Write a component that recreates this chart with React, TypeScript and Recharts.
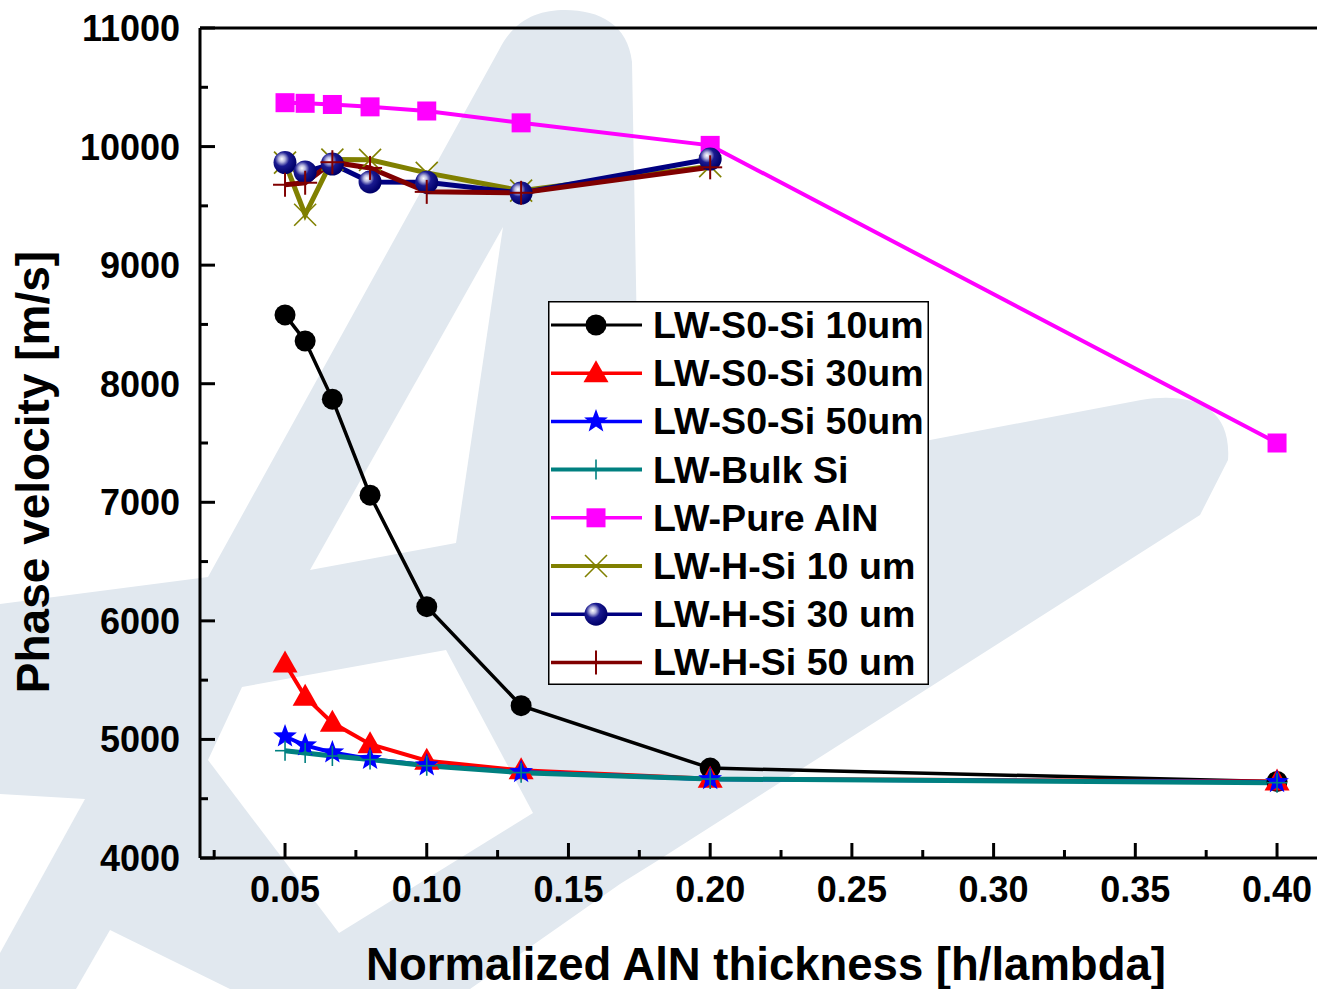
import React from 'react';
import { LineChart, Line, XAxis, YAxis, ReferenceLine, Legend } from 'recharts';

// Normalized AlN thickness h/lambda
const thickness = [0.05, 0.0571, 0.0667, 0.08, 0.1, 0.1333, 0.2, 0.4];

// Phase velocities [m/s]
const s0Si10 = [8580, 8360, 7870, 7060, 6120, 5285, 4758, 4645];
const s0Si30 = [5640, 5360, 5140, 4960, 4820, 4740, 4668, 4645];
const s0Si50 = [5025, 4950, 4890, 4835, 4782, 4725, 4665, 4640];
const bulkSi = [4905, 4885, 4860, 4830, 4778, 4720, 4666, 4635];
const pureAlN = [10370, 10365, 10355, 10335, 10300, 10200, 10010, 7500];
const hSi10 = [9865, 9425, 9890, 9888, 9778, 9628, 9835];
const hSi30 = [9865, 9786, 9853, 9702, 9700, 9608, 9895];
const hSi50 = [9678, 9695, 9868, 9820, 9618, 9610, 9825];

const xTicks = [0.025, 0.05, 0.075, 0.1, 0.125, 0.15, 0.175, 0.2, 0.225, 0.25, 0.275, 0.3, 0.325, 0.35, 0.375, 0.4];
const yTicks = [4000, 4500, 5000, 5500, 6000, 6500, 7000, 7500, 8000, 8500, 9000, 9500, 10000, 10500, 11000];

const FONT = '"Liberation Sans", Arial, Helvetica, sans-serif';

type MarkerKind = 'circle' | 'triangle' | 'star' | 'vplus' | 'square' | 'cross' | 'sphere' | 'plus';

interface SeriesDef {
  key: string;
  name: string;
  color: string;
  width: number;
  legendWidth: number;
  marker: MarkerKind;
  values: number[];
}

const series: SeriesDef[] = [
  { key: 's0Si10', name: 'LW-S0-Si 10um', color: '#000000', width: 3.5, legendWidth: 3, marker: 'circle', values: s0Si10 },
  { key: 's0Si30', name: 'LW-S0-Si 30um', color: '#ff0000', width: 4, legendWidth: 3.5, marker: 'triangle', values: s0Si30 },
  { key: 's0Si50', name: 'LW-S0-Si 50um', color: '#0000ff', width: 4, legendWidth: 3.5, marker: 'star', values: s0Si50 },
  { key: 'bulkSi', name: 'LW-Bulk Si', color: '#008080', width: 5, legendWidth: 4, marker: 'vplus', values: bulkSi },
  { key: 'pureAlN', name: 'LW-Pure AlN', color: '#ff00ff', width: 4, legendWidth: 3.5, marker: 'square', values: pureAlN },
  { key: 'hSi10', name: 'LW-H-Si 10 um', color: '#808000', width: 5, legendWidth: 4, marker: 'cross', values: hSi10 },
  { key: 'hSi30', name: 'LW-H-Si 30 um', color: '#000080', width: 5, legendWidth: 3.5, marker: 'sphere', values: hSi30 },
  { key: 'hSi50', name: 'LW-H-Si 50 um', color: '#800000', width: 5, legendWidth: 3.5, marker: 'plus', values: hSi50 },
];

const data = thickness.map((x, i) => {
  const row: Record<string, number | undefined> = { x };
  series.forEach((s) => {
    row[s.key] = s.values[i];
  });
  return row;
});

function starPoints(cx: number, cy: number, outer: number, inner: number) {
  const pts: string[] = [];
  for (let k = 0; k < 10; k++) {
    const r = k % 2 === 0 ? outer : inner;
    const a = -Math.PI / 2 + (k * Math.PI) / 5;
    pts.push(`${cx + r * Math.cos(a)},${cy + r * Math.sin(a)}`);
  }
  return pts.join(' ');
}

function Marker({ kind, cx, cy, color, uid }: { kind: MarkerKind; cx: number; cy: number; color: string; uid: string }) {
  switch (kind) {
    case 'circle':
      return <circle cx={cx} cy={cy} r={10.5} fill={color} />;
    case 'triangle':
      return <polygon points={`${cx},${cy - 13} ${cx - 12.5},${cy + 9} ${cx + 12.5},${cy + 9}`} fill={color} />;
    case 'star':
      return <polygon points={starPoints(cx, cy, 12.5, 5.2)} fill={color} />;
    case 'vplus':
      return (
        <g stroke={color} strokeWidth={1.6}>
          <line x1={cx} x2={cx} y1={cy - 10} y2={cy + 10} />
          <line x1={cx - 10} x2={cx + 10} y1={cy} y2={cy} />
        </g>
      );
    case 'square':
      return <rect x={cx - 9.5} y={cy - 9.5} width={19} height={19} fill={color} />;
    case 'cross':
      return (
        <g stroke={color} strokeWidth={1.6}>
          <line x1={cx - 11} x2={cx + 11} y1={cy - 11} y2={cy + 11} />
          <line x1={cx - 11} x2={cx + 11} y1={cy + 11} y2={cy - 11} />
        </g>
      );
    case 'sphere':
      return (
        <g>
          <defs>
            <radialGradient id={uid} cx="0.38" cy="0.36" r="0.62" fx="0.36" fy="0.34">
              <stop offset="0" stopColor="#ffffff" />
              <stop offset="0.22" stopColor="#b8b8e0" />
              <stop offset="0.5" stopColor="#1a1a90" />
              <stop offset="1" stopColor="#00006a" />
            </radialGradient>
          </defs>
          <circle cx={cx} cy={cy} r={11.5} fill={`url(#${uid})`} />
        </g>
      );
    case 'plus':
    default:
      return (
        <g stroke={color} strokeWidth={2}>
          <line x1={cx} x2={cx} y1={cy - 12} y2={cy + 12} />
          <line x1={cx - 12} x2={cx + 12} y1={cy} y2={cy} />
        </g>
      );
  }
}

const makeDot = (s: SeriesDef) => (p: any) => {
  if (p.cx == null || p.cy == null || p.value == null) return <g key={`${s.key}-${p.index}`} />;
  return (
    <Marker
      key={`${s.key}-${p.index}`}
      kind={s.marker}
      cx={p.cx}
      cy={p.cy}
      color={s.color}
      uid={`${s.key}-grad-${p.index}`}
    />
  );
};

const XTick = (props: any) => {
  const { x, y, payload } = props;
  const v = payload.value as number;
  const major = Math.round(v * 1000) % 50 === 0;
  return (
    <g>
      <line x1={x} x2={x} y1={y} y2={y - (major ? 15 : 8)} stroke="#000" strokeWidth={3} />
      {major && (
        <text x={x} y={y + 44} textAnchor="middle" fontSize={36} fontWeight={700} fontFamily={FONT} fill="#000">
          {v.toFixed(2)}
        </text>
      )}
    </g>
  );
};

const YTick = (props: any) => {
  const { x, y, payload } = props;
  const v = payload.value as number;
  const major = v % 1000 === 0;
  return (
    <g>
      <line x1={x} x2={x + (major ? 15 : 8)} y1={y} y2={y} stroke="#000" strokeWidth={3} />
      {major && (
        <text x={x - 20} y={y + 13} textAnchor="end" fontSize={36} fontWeight={700} fontFamily={FONT} fill="#000">
          {v}
        </text>
      )}
    </g>
  );
};

const LEGEND_W = 381;
const LEGEND_H = 384;

const LegendBox = () => (
  <svg width={LEGEND_W} height={LEGEND_H} style={{ display: 'block' }}>
    <rect x={0.75} y={0.75} width={LEGEND_W - 1.5} height={LEGEND_H - 1.5} fill="#fff" stroke="#000" strokeWidth={1.5} />
    {series.map((s, i) => {
      const cy = 24 + i * 48.2;
      return (
        <g key={s.key}>
          <line x1={3} x2={94} y1={cy} y2={cy} stroke={s.color} strokeWidth={s.legendWidth} />
          <Marker kind={s.marker} cx={48} cy={cy} color={s.color} uid={`legend-grad-${i}`} />
          <text x={105} y={cy + 13} fontSize={37.6} fontWeight={700} fontFamily={FONT} fill="#000">
            {s.name}
          </text>
        </g>
      );
    })}
  </svg>
);

// Faint logo watermark in the page background
const WATERMARK = '#e1e8ef';

const Watermark = () => (
  <svg width={1317} height={989} style={{ position: 'absolute', left: 0, top: 0 }}>
    <path
      d="M 499 50 C 515 18 540 10 565 10 C 600 10 628 25 632 62 L 640 503 L 930 440 L 1141 400 C 1190 392 1232 405 1228 460 L 1200 515 L 657 861 L 620 884 L 470 989 L 0 989 L 0 604 L 208 577 Z"
      fill={WATERMARK}
    />
    <polygon points="503,227 310,570 456,543" fill="#fff" />
    <polygon points="208,760 242,687 446,650 533,813 339,933" fill="#fff" />
    <polygon points="0,794 85,799 0,953" fill="#fff" />
    <polygon points="76,989 110,930 230,989" fill="#fff" />
  </svg>
);

export default function App() {
  return (
    <div style={{ position: 'absolute', left: 0, top: 0, width: 1317, height: 989, background: '#fff', overflow: 'hidden' }}>
      <Watermark />
      <div style={{ position: 'absolute', left: 0, top: 0 }}>
        <LineChart width={1317} height={989} data={data} margin={{ top: 28, right: 0, bottom: 0, left: 0 }}>
          <XAxis
            dataKey="x"
            type="number"
            domain={[0.02, 0.4141]}
            allowDataOverflow
            ticks={xTicks}
            interval={0}
            height={131}
            tickSize={0}
            tickMargin={0}
            tickLine={false}
            tick={<XTick />}
            axisLine={{ stroke: '#000', strokeWidth: 3 }}
            label={{
              value: 'Normalized AlN thickness [h/lambda]',
              content: () => (
                <text x={766} y={980} textAnchor="middle" fontSize={45.5} fontWeight={700} fontFamily={FONT} fill="#000">
                  Normalized AlN thickness [h/lambda]
                </text>
              ),
            }}
          />
          <YAxis
            type="number"
            domain={[4000, 11000]}
            allowDataOverflow
            ticks={yTicks}
            interval={0}
            width={200}
            tickSize={0}
            tickMargin={0}
            tickLine={false}
            tick={<YTick />}
            axisLine={{ stroke: '#000', strokeWidth: 3 }}
            label={{
              value: 'Phase velocity [m/s]',
              content: () => (
                <text
                  transform="translate(49,472) rotate(-90)"
                  textAnchor="middle"
                  fontSize={46}
                  fontWeight={700}
                  fontFamily={FONT}
                  fill="#000"
                >
                  Phase velocity [m/s]
                </text>
              ),
            }}
          />
          <ReferenceLine y={11000} stroke="#000" strokeWidth={3} />
          {series.map((s) => (
            <Line
              key={s.key}
              type="linear"
              dataKey={s.key}
              name={s.name}
              stroke={s.color}
              strokeWidth={s.width}
              dot={makeDot(s)}
              activeDot={false}
              isAnimationActive={false}
              connectNulls={false}
            />
          ))}
          <Legend
            layout="vertical"
            align="center"
            verticalAlign="middle"
            content={() => <LegendBox />}
            wrapperStyle={{ position: 'absolute', left: 548, top: 301, width: LEGEND_W, height: LEGEND_H }}
          />
        </LineChart>
      </div>
    </div>
  );
}
